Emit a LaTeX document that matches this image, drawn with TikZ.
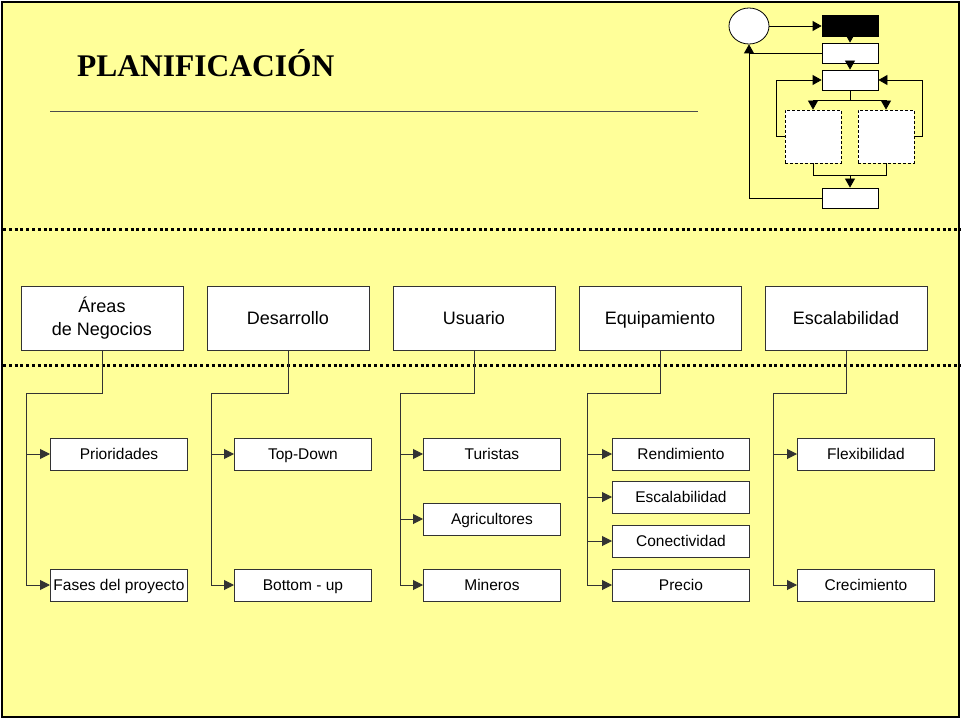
\documentclass[tikz,border=0pt]{standalone}
\usepackage{fontspec}
\setmainfont{Liberation Sans}
\newfontfamily\titlefont{Liberation Serif}
\usetikzlibrary{arrows.meta,shapes.geometric}
\definecolor{bgyellow}{HTML}{FFFF99}
\definecolor{linecol}{HTML}{333333}
\begin{document}
\begin{tikzpicture}[x=1pt,y=-1pt,
  tip/.style={-{Triangle[length=10pt,width=10pt]}},
  stip/.style={-{Triangle[length=9pt,width=10pt]}},
  conn/.style={draw=linecol,line width=1pt},
  topbox/.style={draw=linecol,fill=white,line width=0.9pt,minimum width=162pt,minimum height=64pt,
    font=\fontsize{18}{23}\selectfont,align=center,inner sep=0pt},
  oneline/.style={text height=13pt,text depth=0pt},
  subbox/.style={draw=linecol,fill=white,line width=0.9pt,minimum width=137pt,minimum height=32pt,
    font=\fontsize{15.5}{18}\selectfont,inner sep=0pt,anchor=west,text height=11.5pt,text depth=0.5pt},
  mini/.style={draw=black,fill=white,line width=0.8pt,minimum width=56pt,minimum height=20pt,inner sep=0pt},
  minidash/.style={mini,dashed,dash pattern=on 3pt off 2pt,minimum height=53pt},
  dotline/.style={line width=3pt,dash pattern=on 3pt off 2.8pt,draw=black}
  ]
\useasboundingbox (0,0) rectangle (961,719);
\fill[white] (0,0) rectangle (961,719);
\fill[bgyellow] (2,2) rectangle (959,717);

% title
\node[anchor=base west,inner sep=0pt,font=\titlefont\bfseries\fontsize{31.5}{36}\selectfont] (title) at (77,77) {PLANIFICACIÓN};
\draw[draw=black!70,line width=1pt] (50,112) -- (698,112);

% dotted separators
\draw[dotline] (3,230) -- (961,230);
\draw[dotline] (3,365) -- (961,365);

% mini flow diagram
\node[ellipse,draw=black,fill=white,line width=0.8pt,minimum width=40pt,minimum height=36pt,inner sep=0pt] (ell) at (749,26) {};
\node[mini,fill=black,minimum height=21pt] (blk) at (850,26) {};
\node[mini] (b2) at (850,53) {};
\node[mini] (b3) at (850,80) {};
\node[minidash] (dl) at (813,136.5) {};
\node[minidash] (dr) at (886,136.5) {};
\node[mini] (b4) at (850,198) {};
\coordinate (sp) at (850,100);
\coordinate (mg) at (850,175);
\begin{scope}[line width=0.8pt]
\draw[stip] (ell.east) -- (blk.west);
\draw[stip] (blk.south) -- (b2.north);
\draw[stip] (b2.south) -- (b3.north);
\draw[stip] (b4.west) -| (ell.south);
\draw (b2.west) -- (b2.west -| ell.south);
\draw[stip] (dl.west) -- ++(-8,0) |- (b3.west);
\draw[stip] (dr.east) -- ++(8,0) |- (b3.east);
\draw (b3.south) -- (sp);
\draw[stip] (sp) -| (dl.north);
\draw[stip] (sp) -| (dr.north);
\draw (dl.south) |- (mg);
\draw (dr.south) |- (mg);
\draw[stip] (mg) -- (b4.north);
\end{scope}

% top boxes
\node[topbox] (t1) at (102,318) {Áreas\\de Negocios};
\node[topbox,oneline] (t2) at (288,318) {Desarrollo};
\node[topbox,oneline] (t3) at (474,318) {Usuario};
\node[topbox,oneline] (t4) at (660,318) {Equipamiento};
\node[topbox,oneline] (t5) at (846,318) {Escalabilidad};

% sub boxes
\node[subbox] (s11) at (50,454) {Prioridades};
\node[subbox] (s12) at (50,585) {Fases del proyecto};
\node[subbox] (s21) at (234,454) {Top-Down};
\node[subbox] (s22) at (234,585) {Bottom - up};
\node[subbox] (s31) at (423,454) {Turistas};
\node[subbox] (s32) at (423,519) {Agricultores};
\node[subbox] (s33) at (423,585) {Mineros};
\node[subbox] (s41) at (612,454) {Rendimiento};
\node[subbox] (s42) at (612,497) {Escalabilidad};
\node[subbox] (s43) at (612,541) {Conectividad};
\node[subbox] (s44) at (612,585) {Precio};
\node[subbox] (s51) at (797,454) {Flexibilidad};
\node[subbox] (s52) at (797,585) {Crecimiento};

% trunks
\coordinate (j1) at (26,393);
\coordinate (j2) at (211,393);
\coordinate (j3) at (400,393);
\coordinate (j4) at (587,393);
\coordinate (j5) at (773,393);

\begin{scope}[conn]
\draw (t1.south) |- (j1) -- (j1 |- s12.west);
\draw[tip] (j1 |- s11.west) -- (s11.west);
\draw[tip] (j1 |- s12.west) -- (s12.west);

\draw (t2.south) |- (j2) -- (j2 |- s22.west);
\draw[tip] (j2 |- s21.west) -- (s21.west);
\draw[tip] (j2 |- s22.west) -- (s22.west);

\draw (t3.south) |- (j3) -- (j3 |- s33.west);
\draw[tip] (j3 |- s31.west) -- (s31.west);
\draw[tip] (j3 |- s32.west) -- (s32.west);
\draw[tip] (j3 |- s33.west) -- (s33.west);

\draw (t4.south) |- (j4) -- (j4 |- s44.west);
\draw[tip] (j4 |- s41.west) -- (s41.west);
\draw[tip] (j4 |- s42.west) -- (s42.west);
\draw[tip] (j4 |- s43.west) -- (s43.west);
\draw[tip] (j4 |- s44.west) -- (s44.west);

\draw (t5.south) |- (j5) -- (j5 |- s52.west);
\draw[tip] (j5 |- s51.west) -- (s51.west);
\draw[tip] (j5 |- s52.west) -- (s52.west);
\end{scope}

% frame
\draw[line width=2.5pt,draw=black] (2,2) rectangle (959,717);
\end{tikzpicture}
\end{document}
